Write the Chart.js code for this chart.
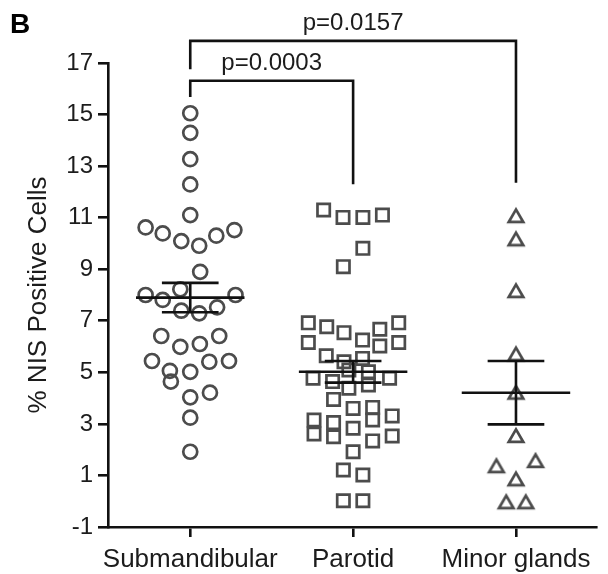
<!DOCTYPE html>
<html>
<head>
<meta charset="utf-8">
<script src="https://cdn.jsdelivr.net/npm/chart.js@4/dist/chart.umd.min.js"></script>
<style>
html,body{margin:0;padding:0;background:#fff;}
#wrap{width:608px;height:574px;position:relative;}
canvas{display:block;}
</style>
</head>
<body>
<div id="wrap"><canvas id="c" width="608" height="574"></canvas></div>
<script>
// ---- data ----
const categories = ['Submandibular', 'Parotid', 'Minor glands'];
const yTickValues = [-1, 1, 3, 5, 7, 9, 11, 13, 15, 17];

const submandibularValues = [15.05, 14.29, 13.27, 12.29, 11.10, 10.62, 10.39, 10.09, 9.91, 10.30, 10.52, 8.90,
  8.00, 7.81, 8.22, 7.39, 7.29, 7.52, 8.00, 6.41, 5.99, 6.10, 6.41, 5.44, 5.06, 4.64, 5.02, 5.41, 5.44,
  4.03, 4.21, 3.24, 1.92];
const submandibularJitter = [0, 0, 0, 0, 0, -0.274, -0.169, -0.055, 0.055, 0.160, 0.271, 0.061,
  -0.274, -0.169, -0.061, -0.055, 0.055, 0.165, 0.278, -0.178, -0.061, 0.059, 0.178, -0.235, -0.125, -0.119, 0, 0.117, 0.238,
  0, 0.121, 0, 0];

const parotidValues = [11.30, 11.01, 11.01, 11.10, 9.81, 9.10,
  6.92, 6.77, 6.54, 6.25, 6.67, 6.92, 6.16, 6.02, 6.16, 5.64, 5.41, 5.54,
  4.77, 4.64, 5.09, 5.02, 4.51, 4.77, 4.38,
  3.95, 3.60, 3.64, 3.31, 3.15, 3.05, 3.15, 2.83, 2.61, 2.50, 2.34, 2.53, 1.92, 1.21, 1.02, 0.02, 0.02];
const parotidJitter = [-0.181, -0.062, 0.060, 0.180, 0.060, -0.060,
  -0.275, -0.162, -0.056, 0.058, 0.164, 0.280, -0.275, 0.164, 0.280, -0.165, -0.056, 0.058,
  -0.246, -0.126, -0.026, 0.094, 0.094, 0.224, -0.026,
  -0.120, 0, 0.120, 0.240, -0.240, -0.120, 0.120, 0, -0.240, -0.120, 0.120, 0.240, 0, -0.060, 0.060, -0.060, 0.060];

const minorValues = [11.10, 10.20, 8.19, 5.74, 4.25, 2.57, 1.40, 1.60, 0.89, 0.00, 0.00];
const minorJitter = [0, 0, 0, 0, 0, 0, -0.120, 0.120, 0, -0.060, 0.060];

const groupMeans = [7.90, 5.02, 4.21];
const groupSEMs = [0.57, 0.42, 1.23];

const comparisonFrom = [1, 1];
const comparisonTo = [2, 3];
const comparisonLabels = ['p=0.0003', 'p=0.0157'];

// ---- styling ----
const FONT = '"Liberation Sans", Arial, Helvetica, sans-serif';
const MARK = '#4c4c4c';
const INK = '#111111';
const TEXT = '#1c1c1c';

function toPoints(vals, jit, cat) {
  return vals.map((v, i) => ({ x: cat + jit[i], y: v }));
}

// open triangle marker, centred on its bounding box
function makeTriangle() {
  const c = document.createElement('canvas');
  c.width = 24; c.height = 24;
  const g = c.getContext('2d');
  const s = 14.6, h = s * Math.sqrt(3) / 2;
  const cx = 12, cy = 12 + 0.65;
  g.strokeStyle = MARK;
  g.lineWidth = 2.7;
  g.lineJoin = 'miter';
  g.beginPath();
  g.moveTo(cx, cy - h / 2);
  g.lineTo(cx + s / 2, cy + h / 2);
  g.lineTo(cx - s / 2, cy + h / 2);
  g.closePath();
  g.stroke();
  return c;
}

// bracket geometry (in data units) for the comparison annotations
const bracketTops = [16.31, 17.86];
const bracketLeftEnds = [15.68, 16.76];
const bracketRightEnds = [12.3, 12.35];

const meanPlugin = {
  id: 'meanSem',
  afterDatasetsDraw(chart) {
    const { ctx, scales: { x, y } } = chart;
    ctx.save();
    ctx.strokeStyle = INK;
    ctx.lineWidth = 2.6;
    ctx.lineCap = 'butt';
    groupMeans.forEach((m, i) => {
      const c = i + 1;
      const se = groupSEMs[i];
      ctx.beginPath();
      ctx.moveTo(x.getPixelForValue(c - 0.333), y.getPixelForValue(m));
      ctx.lineTo(x.getPixelForValue(c + 0.333), y.getPixelForValue(m));
      ctx.moveTo(x.getPixelForValue(c - 0.174), y.getPixelForValue(m + se));
      ctx.lineTo(x.getPixelForValue(c + 0.174), y.getPixelForValue(m + se));
      ctx.moveTo(x.getPixelForValue(c - 0.174), y.getPixelForValue(m - se));
      ctx.lineTo(x.getPixelForValue(c + 0.174), y.getPixelForValue(m - se));
      ctx.moveTo(x.getPixelForValue(c), y.getPixelForValue(m + se));
      ctx.lineTo(x.getPixelForValue(c), y.getPixelForValue(m - se));
      ctx.stroke();
    });
    ctx.restore();
  }
};

const annotPlugin = {
  id: 'annot',
  afterDraw(chart) {
    const { ctx, scales: { x, y } } = chart;
    ctx.save();
    ctx.strokeStyle = INK;
    ctx.lineWidth = 2.6;
    ctx.lineJoin = 'miter';
    comparisonLabels.forEach((lab, i) => {
      const x1 = x.getPixelForValue(comparisonFrom[i]);
      const x2 = x.getPixelForValue(comparisonTo[i]);
      const yt = y.getPixelForValue(bracketTops[i]);
      ctx.beginPath();
      ctx.moveTo(x1, y.getPixelForValue(bracketLeftEnds[i]));
      ctx.lineTo(x1, yt);
      ctx.lineTo(x2, yt);
      ctx.lineTo(x2, y.getPixelForValue(bracketRightEnds[i]));
      ctx.stroke();
      ctx.fillStyle = TEXT;
      ctx.font = '24px ' + FONT;
      ctx.textAlign = 'center';
      ctx.textBaseline = 'alphabetic';
      ctx.fillText(lab, (x1 + x2) / 2, yt - 11);
    });
    ctx.fillStyle = '#000';
    ctx.font = 'bold 28px ' + FONT;
    ctx.textAlign = 'left';
    ctx.textBaseline = 'alphabetic';
    ctx.fillText('B', 10, 33);
    ctx.restore();
  }
};

const triangle = makeTriangle();

new Chart(document.getElementById('c'), {
  type: 'scatter',
  data: {
    datasets: [
      {
        label: categories[0],
        data: toPoints(submandibularValues, submandibularJitter, 1),
        pointStyle: 'circle', pointRadius: 7, pointBorderWidth: 2.7,
        borderColor: MARK, backgroundColor: 'rgba(0,0,0,0)'
      },
      {
        label: categories[1],
        data: toPoints(parotidValues, parotidJitter, 2),
        pointStyle: 'rect', pointRadius: 8.7, pointBorderWidth: 2.7,
        borderColor: MARK, backgroundColor: 'rgba(0,0,0,0)'
      },
      {
        label: categories[2],
        data: toPoints(minorValues, minorJitter, 3),
        pointStyle: triangle, pointRadius: 10, pointBorderWidth: 0,
        borderColor: MARK, backgroundColor: 'rgba(0,0,0,0)'
      }
    ]
  },
  options: {
    responsive: false,
    animation: false,
    events: [],
    devicePixelRatio: 1,
    layout: { padding: { top: 63, right: 0, bottom: 0, left: 0 } },
    plugins: { legend: { display: false }, tooltip: { enabled: false } },
    scales: {
      x: {
        type: 'linear',
        min: 0.495, max: 3.495,
        afterBuildTicks: (s) => { s.ticks = [1, 2, 3].map(v => ({ value: v })); },
        afterFit: (s) => { s.height = 47; },
        ticks: {
          callback: (v) => categories[Math.round(v) - 1],
          font: { family: FONT, size: 26 },
          color: TEXT,
          padding: 7,
          maxRotation: 0,
          autoSkip: false
        },
        grid: { drawOnChartArea: false, drawTicks: true, tickLength: 10, color: INK, lineWidth: 2.6 },
        border: { display: true, color: INK, width: 2.6 }
      },
      y: {
        type: 'linear',
        min: -1, max: 17,
        afterBuildTicks: (s) => { s.ticks = yTickValues.map(v => ({ value: v })); },
        afterFit: (s) => { s.width = 108; },
        ticks: {
          font: { family: FONT, size: 24 },
          color: TEXT,
          padding: 5
        },
        grid: { drawOnChartArea: false, drawTicks: true, tickLength: 10, color: INK, lineWidth: 2.6 },
        border: { display: true, color: INK, width: 2.6 },
        title: {
          display: true,
          text: '% NIS Positive Cells',
          font: { family: FONT, size: 26 },
          color: TEXT,
          padding: { top: 23, bottom: 0 }
        }
      }
    }
  },
  plugins: [meanPlugin, annotPlugin]
});
</script>
</body>
</html>
